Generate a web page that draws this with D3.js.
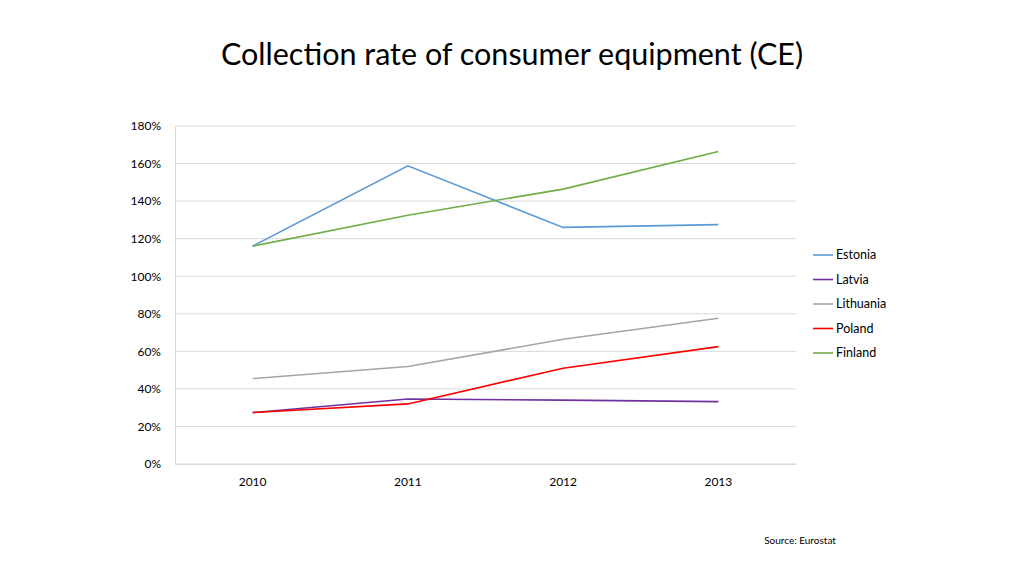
<!DOCTYPE html>
<html>
<head>
<meta charset="utf-8">
<script src="https://cdn.jsdelivr.net/npm/d3@7"></script>
<style>
  body { margin: 0; background: #fff; }
  svg, svg text { font-family: Lato, "Open Sans", sans-serif; }
</style>
</head>
<body>
<svg width="1024" height="576"></svg>
<script>
var years = ['2010', '2011', '2012', '2013'];
var countries = ['Estonia', 'Latvia', 'Lithuania', 'Poland', 'Finland'];
var colors = ['#5B9BD5', '#7030A0', '#A5A5A5', '#FF0000', '#70AD47'];
var estonia = [116, 158.8, 126, 127.5];
var latvia = [27.4, 34.6, 34, 33.2];
var lithuania = [45.5, 51.9, 66.4, 77.6];
var poland = [27.4, 32, 51, 62.5];
var finland = [116, 132.5, 146.4, 166.4];
var yTicks = [0, 20, 40, 60, 80, 100, 120, 140, 160, 180];

var series = [estonia, latvia, lithuania, poland, finland];

var svg = d3.select('svg');
var plotLeft = 175, plotRight = 796, plotTop = 126, plotBottom = 464;

var x = d3.scaleBand().domain(years).range([plotLeft, plotRight]);
var y = d3.scaleLinear().domain([0, 180]).range([plotBottom, plotTop]);

// title
svg.append('text')
    .attr('x', 512).attr('y', 65)
    .attr('text-anchor', 'middle')
    .style('font-size', '30.5px')
    .style('fill', '#000')
    .text('Collection rate of consumer equipment (CE)');

// gridlines
svg.append('g').selectAll('line')
    .data(yTicks)
    .enter().append('line')
    .attr('x1', plotLeft).attr('x2', plotRight)
    .attr('y1', function(d) { return y(d); })
    .attr('y2', function(d) { return y(d); })
    .style('stroke', '#D9D9D9')
    .style('stroke-width', 1);

// y axis
var yAxis = svg.append('g')
    .attr('transform', 'translate(' + plotLeft + ',0)')
    .call(d3.axisLeft(y).tickValues(yTicks).tickSize(0).tickPadding(14)
        .tickFormat(function(d) { return d + '%'; }));
yAxis.select('.domain').style('stroke', '#D9D9D9');
yAxis.selectAll('text').style('font-size', '12px').style('fill', '#000');

// x axis
var xAxis = svg.append('g')
    .attr('transform', 'translate(0,' + plotBottom + ')')
    .call(d3.axisBottom(x).tickSize(0).tickPadding(13));
xAxis.select('.domain').style('stroke', '#D9D9D9');
xAxis.selectAll('text').style('font-size', '12px').style('fill', '#000');

// lines
var line = d3.line()
    .x(function(d, i) { return x(years[i]) + x.bandwidth() / 2; })
    .y(function(d) { return y(d); });

series.forEach(function(s, i) {
    svg.append('path')
        .datum(s)
        .attr('d', line)
        .style('fill', 'none')
        .style('stroke', colors[i])
        .style('stroke-width', 1.6);
});

// legend
var legend = svg.append('g').selectAll('g')
    .data(countries)
    .enter().append('g')
    .attr('transform', function(d, i) { return 'translate(813,' + (255 + i * 24.5) + ')'; });
legend.append('line')
    .attr('x1', 0).attr('x2', 20)
    .style('stroke', function(d, i) { return colors[i]; })
    .style('stroke-width', 1.6);
legend.append('text')
    .attr('x', 23).attr('dy', '0.35em')
    .style('font-size', '12.5px')
    .text(function(d) { return d; });

// source
svg.append('text')
    .attr('x', 800).attr('y', 544)
    .attr('text-anchor', 'middle')
    .style('font-size', '10px')
    .text('Source: Eurostat');
</script>
</body>
</html>
